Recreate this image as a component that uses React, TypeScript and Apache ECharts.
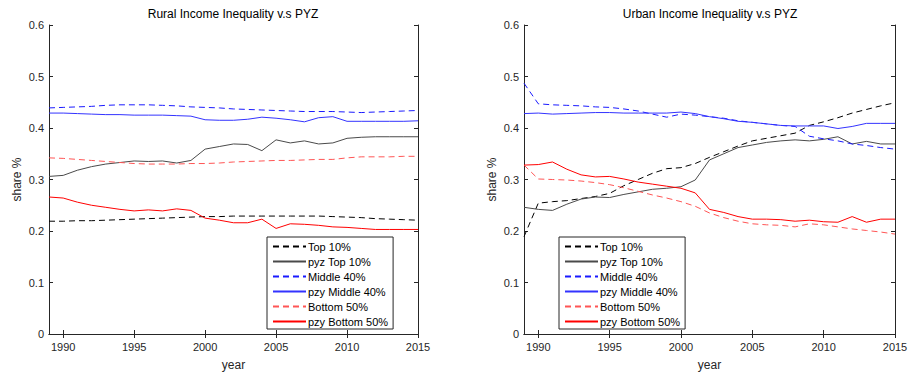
import React, { useEffect, useRef } from "react";
import * as echarts from "echarts";

const years = [1989, 1990, 1991, 1992, 1993, 1994, 1995, 1996, 1997, 1998, 1999, 2000, 2001, 2002, 2003, 2004, 2005, 2006, 2007, 2008, 2009, 2010, 2011, 2012, 2013, 2014, 2015];
const xTicks = [1990, 1995, 2000, 2005, 2010, 2015];
const yTicks = [0, 0.1, 0.2, 0.3, 0.4, 0.5, 0.6];

const seriesNames = ["Top 10%", "pyz Top 10%", "Middle 40%", "pzy Middle 40%", "Bottom 50%", "pzy Bottom 50%"];

const ruralTop10 = [.219, .219, .220, .220, .221, .222, .223, .224, .225, .226, .227, .228, .228, .229, .229, .229, .229, .229, .229, .229, .228, .227, .226, .224, .223, .222, .221];
const ruralPyzTop10 = [.306, .308, .318, .325, .330, .333, .336, .335, .336, .332, .337, .359, .364, .369, .368, .356, .377, .371, .375, .369, .371, .380, .382, .383, .383, .383, .383];
const ruralMid40 = [.439, .440, .441, .442, .444, .445, .445, .445, .444, .443, .441, .440, .439, .437, .436, .435, .434, .433, .432, .432, .432, .431, .430, .431, .432, .433, .434];
const ruralPzyMid40 = [.429, .429, .428, .427, .426, .426, .425, .425, .425, .424, .423, .416, .415, .415, .417, .421, .419, .416, .412, .420, .422, .413, .413, .413, .413, .413, .414];
const ruralBot50 = [.342, .341, .339, .337, .335, .333, .331, .330, .330, .330, .331, .331, .332, .334, .335, .336, .337, .337, .338, .339, .339, .342, .344, .344, .344, .345, .345];
const ruralPzyBot50 = [.266, .264, .256, .250, .246, .242, .239, .241, .239, .243, .240, .225, .221, .216, .216, .223, .205, .214, .213, .211, .208, .207, .205, .203, .203, .203, .203];

const urbanTop10 = [.189, .254, .257, .259, .263, .267, .273, .288, .300, .312, .321, .323, .331, .343, .354, .365, .375, .380, .385, .390, .405, .412, .420, .429, .436, .443, .449];
const urbanPyzTop10 = [.246, .242, .240, .252, .262, .266, .265, .271, .276, .281, .283, .286, .299, .338, .350, .362, .367, .372, .375, .377, .375, .378, .383, .369, .374, .369, .369];
const urbanMid40 = [.487, .447, .445, .444, .443, .441, .440, .437, .433, .427, .421, .427, .425, .422, .419, .414, .411, .408, .405, .403, .384, .379, .375, .369, .366, .362, .359];
const urbanPzyMid40 = [.428, .429, .427, .428, .429, .430, .430, .429, .429, .429, .429, .431, .428, .422, .418, .413, .411, .408, .405, .404, .404, .404, .399, .403, .409, .409, .409];
const urbanBot50 = [.328, .301, .300, .299, .297, .294, .290, .284, .277, .270, .264, .257, .248, .235, .226, .219, .214, .212, .211, .208, .214, .212, .208, .204, .201, .198, .194];
const urbanPzyBot50 = [.328, .329, .334, .320, .309, .305, .306, .301, .295, .291, .287, .283, .274, .242, .236, .228, .223, .223, .222, .219, .221, .218, .217, .228, .217, .223, .223];

const ruralSeries = [ruralTop10, ruralPyzTop10, ruralMid40, ruralPzyMid40, ruralBot50, ruralPzyBot50];
const urbanSeries = [urbanTop10, urbanPyzTop10, urbanMid40, urbanPzyMid40, urbanBot50, urbanPzyBot50];

const lineColors = ["#000000", "#4a4a4a", "#1a1aff", "#3333ff", "#ff5555", "#ff0000"];
const lineDashed = [true, false, true, false, true, false];

const FONT = "'Liberation Sans', Arial, sans-serif";
const AX = "#262626";

export default function App() {
  const ref = useRef<HTMLDivElement>(null);
  useEffect(() => {
    if (!ref.current) return;
    const chart = echarts.init(ref.current, null, { renderer: "svg" });
    const grids = [
      { left: 49, top: 25, width: 369, height: 309 },
      { left: 524, top: 25, width: 371, height: 309 },
    ];
    const xAxes: any[] = [];
    const yAxes: any[] = [];
    grids.forEach((g, gi) => {
      const base = {
        gridIndex: gi,
        type: "value",
        min: 1989,
        max: 2015,
        axisLine: { show: true, lineStyle: { color: AX, width: 1 } },
        axisTick: { show: true, inside: true, length: 4, customValues: xTicks, lineStyle: { color: AX } },
        splitLine: { show: false },
      };
      xAxes.push({
        ...base,
        position: "bottom",
        name: "year",
        nameLocation: "middle",
        nameGap: 25,
        nameTextStyle: { fontSize: 12, color: AX, fontFamily: FONT },
        axisLabel: { show: true, customValues: xTicks, margin: 7, fontSize: 11, color: AX, fontFamily: FONT, formatter: (v: number) => String(v) },
      });
      xAxes.push({ ...base, position: "top", axisLabel: { show: false } });
      const ybase = {
        gridIndex: gi,
        type: "value",
        min: 0,
        max: 0.6,
        interval: 0.1,
        axisLine: { show: true, lineStyle: { color: AX, width: 1 } },
        axisTick: { show: true, inside: true, length: 4, lineStyle: { color: AX } },
        splitLine: { show: false },
      };
      yAxes.push({
        ...ybase,
        position: "left",
        name: "share %",
        nameLocation: "middle",
        nameGap: 26,
        nameTextStyle: { fontSize: 12, color: AX, fontFamily: FONT },
        axisLabel: {
          show: true, margin: 5, fontSize: 11, color: AX, fontFamily: FONT,
          formatter: (v: number) => {
            const t = yTicks.find((k) => Math.abs(k - v) < 1e-6);
            return t === undefined ? "" : t === 0 ? "0" : t.toFixed(1);
          },
        },
      });
      yAxes.push({ ...ybase, position: "right", axisLabel: { show: false } });
    });

    const series: any[] = [];
    [ruralSeries, urbanSeries].forEach((set, gi) => {
      set.forEach((vals, si) => {
        series.push({
          type: "line",
          name: seriesNames[si],
          xAxisIndex: gi * 2,
          yAxisIndex: gi * 2,
          data: years.map((y, i) => [y, vals[i]]),
          symbol: "none",
          showSymbol: false,
          lineStyle: { color: lineColors[si], width: 1, type: lineDashed[si] ? [6, 4] : "solid" },
          itemStyle: { color: lineColors[si] },
          z: 2,
        });
      });
    });

    const legendBase = {
      orient: "vertical",
      top: 237,
      itemWidth: 33,
      itemHeight: 11,
      itemGap: 4,
      padding: [4, 5, 2, 5],
      borderColor: AX,
      borderWidth: 1,
      backgroundColor: "#ffffff",
      data: seriesNames,
      selectedMode: false,
      itemStyle: { opacity: 0 },
      textStyle: { fontSize: 11, color: "#000", fontFamily: FONT, padding: [0, 0, 0, -3] },
      z: 10,
    };

    chart.setOption({
      animation: false,
      textStyle: { fontFamily: FONT },
      grid: grids.map((g) => ({ ...g, containLabel: false })),
      xAxis: xAxes,
      yAxis: yAxes,
      series,
      legend: [
        { ...legendBase, left: 267 },
        { ...legendBase, left: 559 },
      ],
      graphic: [
        { type: "text", x: 233, y: 14, style: { text: "Rural Income Inequality v.s PYZ", fontSize: 12, fill: "#000", fontFamily: FONT, textAlign: "center", textVerticalAlign: "middle" } },
        { type: "text", x: 710, y: 14, style: { text: "Urban Income Inequality v.s PYZ", fontSize: 12, fill: "#000", fontFamily: FONT, textAlign: "center", textVerticalAlign: "middle" } },
      ],
    });
    return () => chart.dispose();
  }, []);
  return <div ref={ref} style={{ position: "fixed", left: 0, top: 0, width: 911, height: 378, background: "#fff" }} />;
}
